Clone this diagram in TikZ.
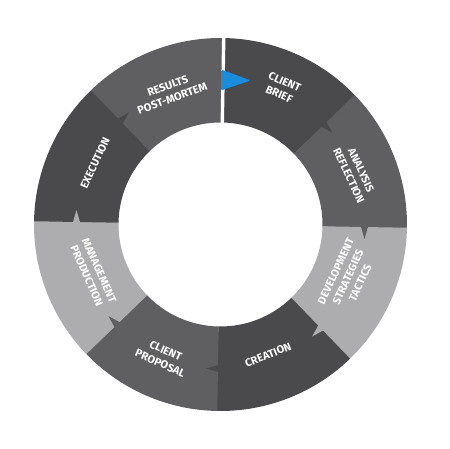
\documentclass[tikz,border=0pt]{standalone}
\usepackage{fontspec}
\setmainfont{Fira Sans}
\definecolor{segdark}{HTML}{4A4A4C}
\definecolor{segmid}{HTML}{5F5F61}
\definecolor{seglight}{HTML}{ADADAF}
\definecolor{flagblue}{HTML}{1A8CDC}
\tikzset{
  lbl/.style={text=white, font=\bfseries\fontsize{11}{13.5}\selectfont, align=center, inner sep=0pt},
  ringtooth/.pic={\fill[pic actions] (136,0.8) .. controls (139.5,0) .. (141,-4) -- (144,-14.5) -- (147,-4) .. controls (148.5,0) .. (152,0.8) -- cycle;}
}
\newcommand\ringseg[3]{%
  \fill[#3] (#1:186.5pt) arc[start angle=#1, end angle=#2, radius=186.5pt]
    -- (#2:102pt) arc[start angle=#2, end angle=#1, radius=102pt] -- cycle;}
\begin{document}
\begin{tikzpicture}[x=1pt,y=1pt]
\useasboundingbox (-220.5,-224.5) rectangle (229.5,224.5);
\begin{scope}[rotate=-1]
  % segments, clockwise from top
  \ringseg{90}{44.8}{segdark}
  \ringseg{45}{-0.2}{segmid}
  \ringseg{0}{-45.2}{seglight}
  \ringseg{-45}{-90.2}{segdark}
  \ringseg{-90}{-135.2}{segmid}
  \ringseg{-135}{-180.2}{seglight}
  \ringseg{180}{134.8}{segdark}
  \ringseg{135}{90}{segmid}
  % arrow teeth
  \path pic[rotate=45, fill=segdark] {ringtooth};
  \path pic[rotate=0, fill=segmid] {ringtooth};
  \path pic[rotate=-45, fill=seglight] {ringtooth};
  \path pic[rotate=-90, fill=segdark] {ringtooth};
  \path pic[rotate=-135, fill=segmid] {ringtooth};
  \path pic[rotate=180, fill=seglight] {ringtooth};
  \path pic[rotate=135, fill=segdark] {ringtooth};
  % white gap at the start
  \fill[white] (-1.7,100) rectangle (1.7,190);
  % blue start flag
  \fill[flagblue, rounded corners=1.5pt] (-2,155) -- (27.5,144.5) -- (-2,134) -- cycle;
\end{scope}
\node[lbl, rotate=20]  (results)  at (-50.5,132.5) {RESULTS\\POST-MORTEM};
\node[lbl, rotate=-24] (brief)    at (61.5,136.5)  {CLIENT\\BRIEF};
\node[lbl, rotate=-65] (analysis) at (134.5,51.5)  {ANALYSIS\\REFLECTION};
\node[lbl, rotate=65]  (develop)  at (127.5,-52.5) {DEVELOPMENT\\STRATEGIES\\TACTICS};
\node[lbl, rotate=22]  (creation) at (47.5,-130.5) {CREATION};
\node[lbl, rotate=-24] (proposal) at (-57.5,-132.5) {CLIENT\\PROPOSAL};
\node[lbl, rotate=-66] (manage)   at (-127.5,-48.5) {MANAGEMENT\\PRODUCTION};
\node[lbl, rotate=65]  (execute)  at (-125.5,61.5) {EXECUTION};
\end{tikzpicture}
\end{document}
